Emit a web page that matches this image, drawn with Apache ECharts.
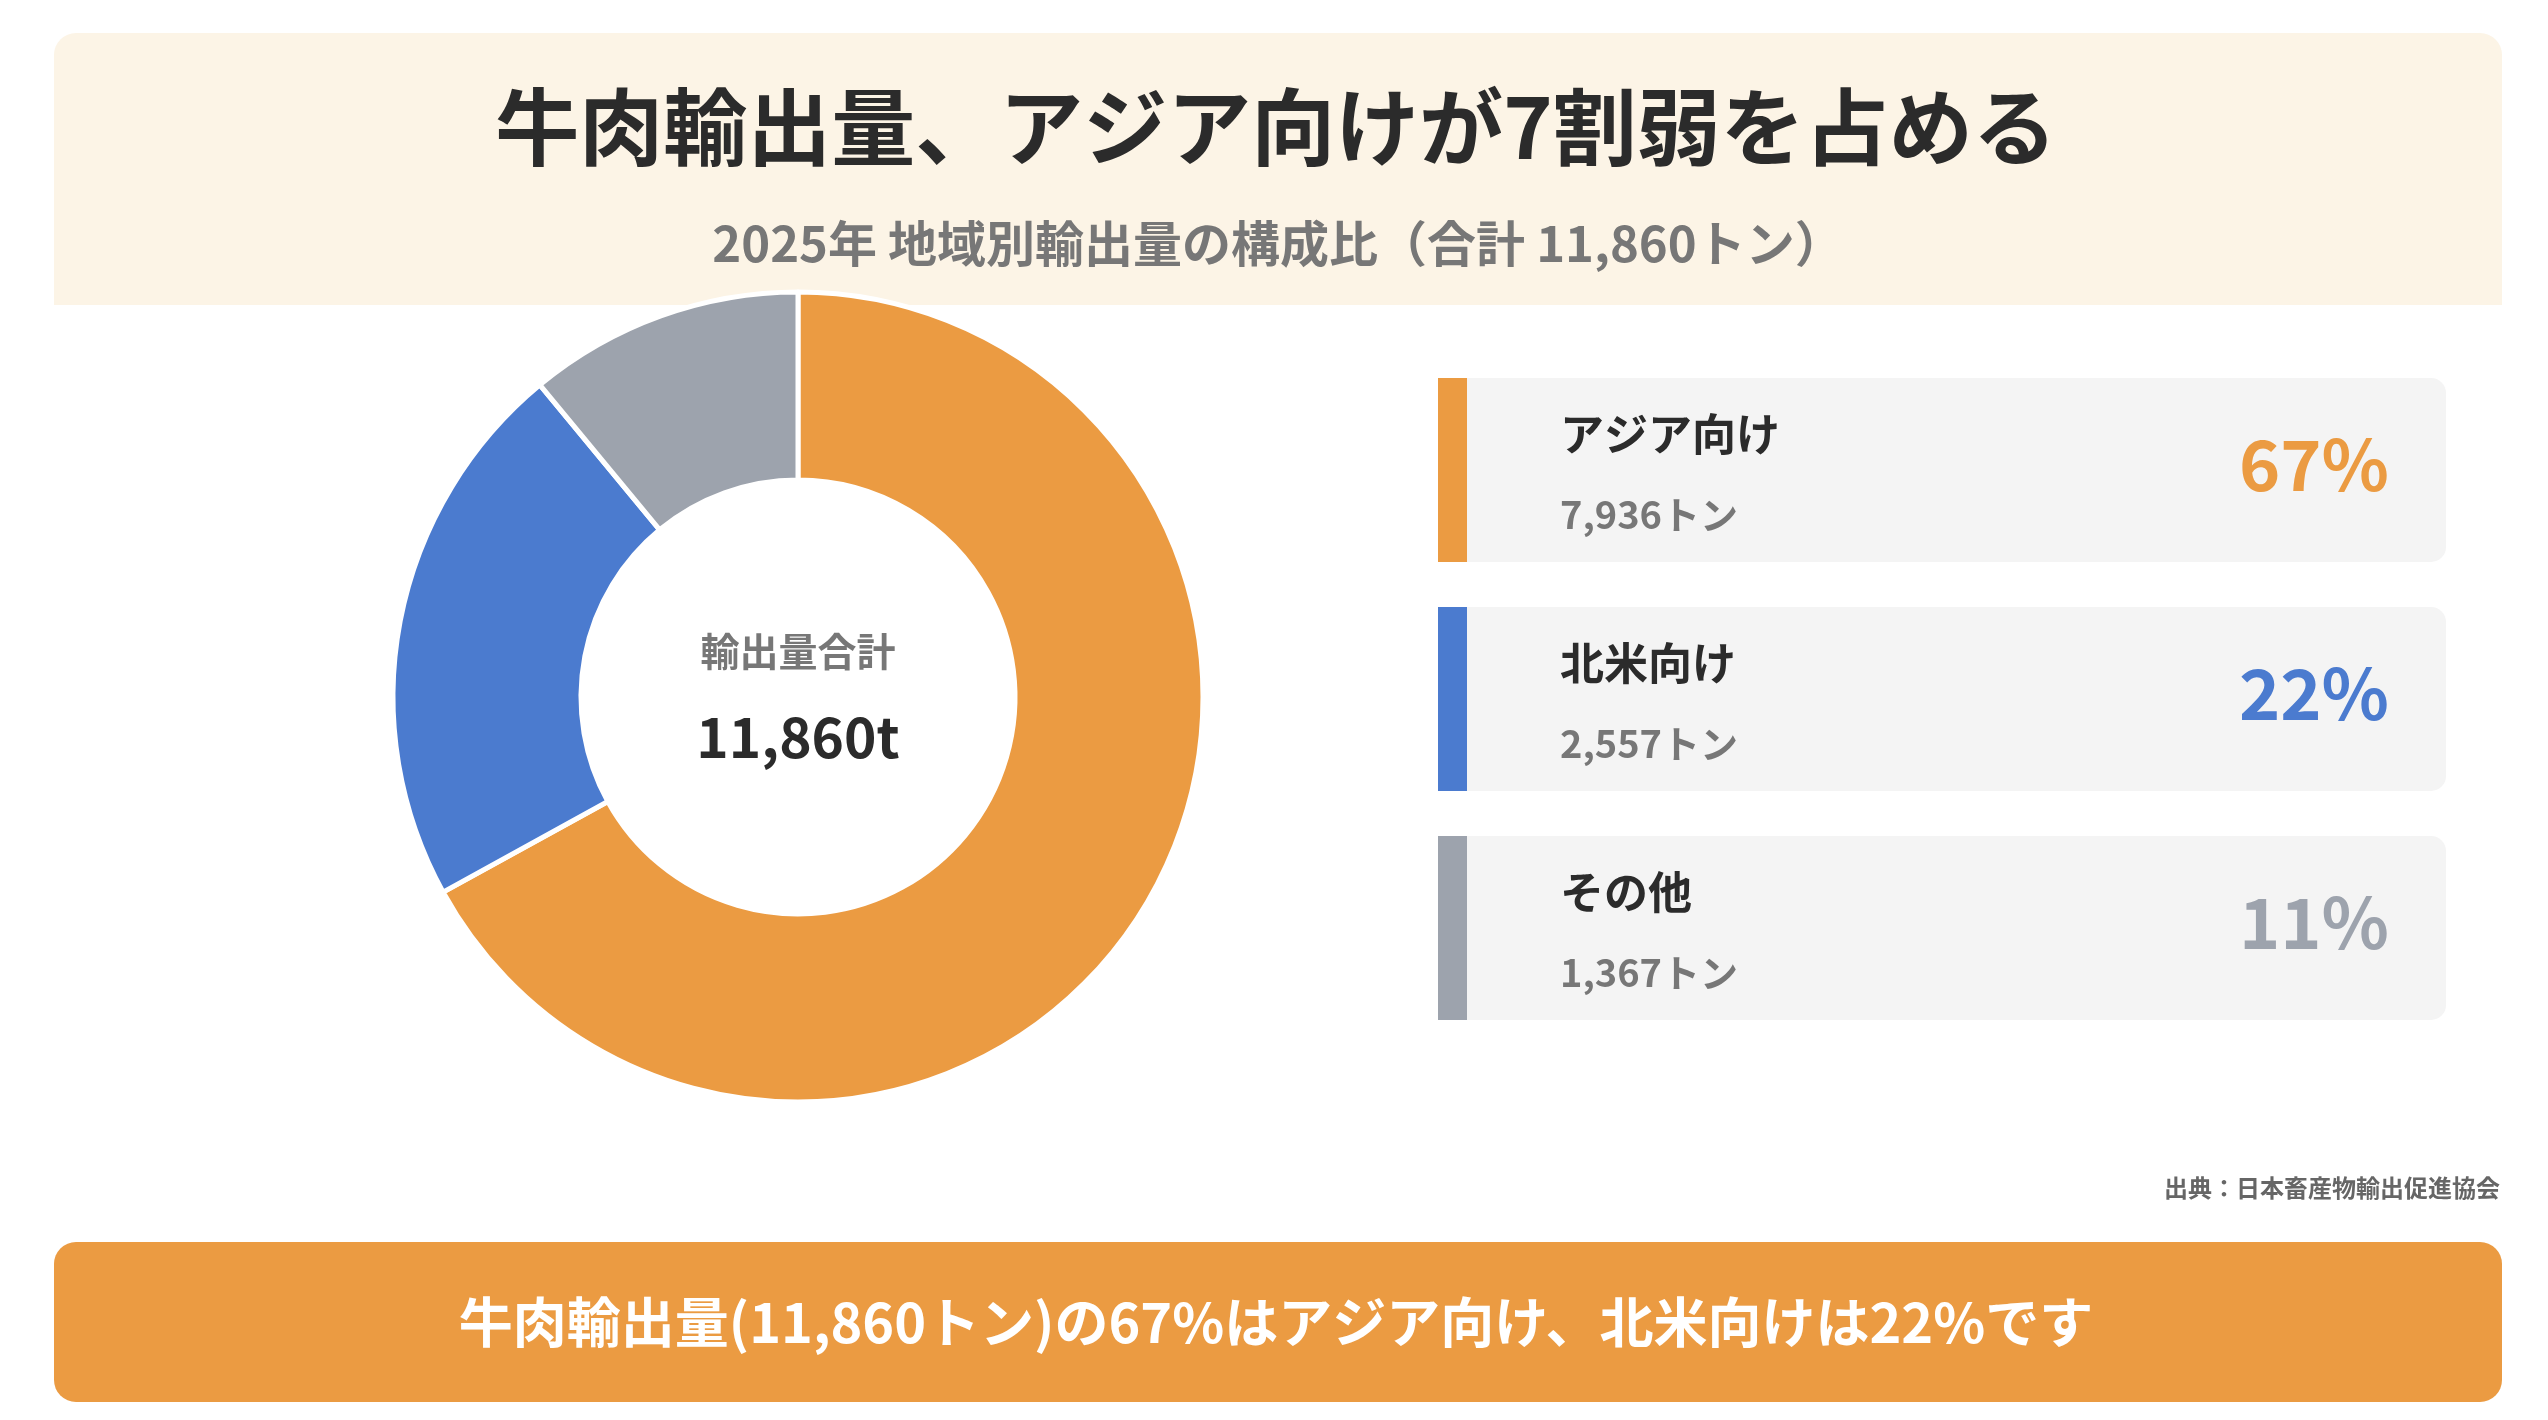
<!DOCTYPE html>
<html>
<head>
<meta charset="utf-8">
<script src="https://cdn.jsdelivr.net/npm/echarts@6/dist/echarts.min.js"></script>
<style>
html, body { margin: 0; padding: 0; background: #ffffff; }
#chart { width: 2548px; height: 1420px; }
</style>
</head>
<body>
<div id="chart"></div>
<script>
// ---- data ----
const categories = ['アジア向け', '北米向け', 'その他'];
const tonnes = [7936, 2557, 1367];
const shares = [67, 22, 11];
const colors = ['#EB9B42', '#4B7BCF', '#9DA3AD'];
const unitLabel = 'トン';
const titleText = '牛肉輸出量、アジア向けが7割弱を占める';
const subtitleText = '2025年 地域別輸出量の構成比（合計 11,860トン）';
const centerLabel = '輸出量合計';
const centerValue = '11,860t';
const sourceText = '出典：日本畜産物輸出促進協会';
const bannerText = '牛肉輸出量(11,860トン)の67%はアジア向け、北米向けは22%です';

// ---- render ----
const FONT = '"Noto Sans CJK JP", "Noto Sans", sans-serif';
const chart = echarts.init(document.getElementById('chart'), null, { renderer: 'canvas' });

function txt(text, x, y, size, color, align, z) {
  return {
    type: 'text', z: z || 5, silent: true,
    style: {
      text: text, x: x, y: y,
      fill: color, fontSize: size, fontWeight: 'bold', fontFamily: FONT,
      align: align || 'center', verticalAlign: 'middle',
      textAlign: align || 'center', textVerticalAlign: 'middle'
    }
  };
}

const graphics = [];
// header panel
graphics.push({
  type: 'rect', z: 0, silent: true,
  shape: { x: 54, y: 33, width: 2448, height: 272, r: [22, 22, 0, 0] },
  style: { fill: '#FCF4E6' }
});
graphics.push(txt(titleText, 1276, 127, 84, '#2B2B2B', 'center'));
graphics.push(txt(subtitleText, 1278, 243, 49, '#777777', 'center'));

// cards
const cardTop0 = 378, cardH = 184, cardStep = 229;
categories.forEach(function (name, i) {
  const top = cardTop0 + i * cardStep;
  graphics.push({
    type: 'rect', z: 1, silent: true,
    shape: { x: 1438, y: top, width: 1008, height: cardH, r: [0, 15, 15, 0] },
    style: { fill: '#F4F4F4' }
  });
  graphics.push({
    type: 'rect', z: 2, silent: true,
    shape: { x: 1438, y: top, width: 29, height: cardH },
    style: { fill: colors[i] }
  });
  graphics.push(txt(name, 1560, top + 56, 44, '#2B2B2B', 'left'));
  graphics.push(txt(tonnes[i].toLocaleString('en-US') + unitLabel, 1560, top + 137, 38, '#777777', 'left'));
  graphics.push(txt(shares[i] + '%', 2389, top + 86, 70, colors[i], 'right'));
});

// center labels
graphics.push(txt(centerLabel, 798, 651, 39, '#777777', 'center', 20));
graphics.push(txt(centerValue, 798, 737, 55, '#2B2B2B', 'center', 20));

// source
graphics.push(txt(sourceText, 2500, 1188, 24, '#666666', 'right'));

// bottom banner
graphics.push({
  type: 'rect', z: 0, silent: true,
  shape: { x: 54, y: 1242, width: 2448, height: 160, r: 22 },
  style: { fill: colors[0] }
});
graphics.push(txt(bannerText, 1276, 1322, 54, '#FFFFFF', 'center'));

const option = {
  backgroundColor: '#ffffff',
  animation: false,
  textStyle: { fontFamily: FONT },
  graphic: { elements: graphics },
  series: [{
    type: 'pie',
    z: 10,
    center: [798, 697],
    radius: [217, 405],
    startAngle: 90,
    clockwise: true,
    silent: true,
    label: { show: false },
    labelLine: { show: false },
    itemStyle: { borderColor: '#ffffff', borderWidth: 5 },
    data: categories.map(function (name, i) {
      return { name: name, value: shares[i], itemStyle: { color: colors[i] } };
    })
  }]
};
chart.setOption(option);
</script>
</body>
</html>
